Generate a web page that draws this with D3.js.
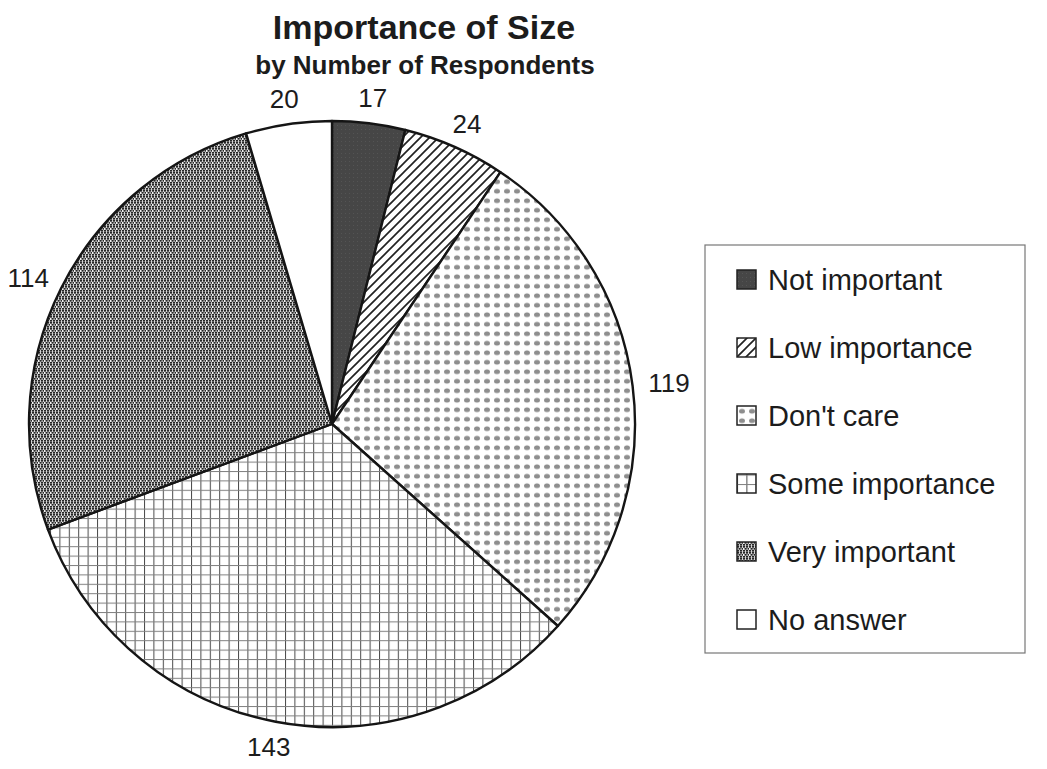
<!DOCTYPE html>
<html>
<head>
<meta charset="utf-8">
<script src="https://cdn.jsdelivr.net/npm/d3@7"></script>
<style>
  body { margin: 0; background: #fff; }
  svg text { font-family: "Liberation Sans", Arial, sans-serif; fill: #1c1c1c; }
</style>
</head>
<body>
<div id="chart"></div>
<script>
const categories = ["Not important", "Low importance", "Don't care", "Some importance", "Very important", "No answer"];
const counts = [17, 24, 119, 143, 114, 20];
const patternIds = ["solidDark", "diag", "dots", "grid", "stipple", "blank"];

const width = 1047, height = 769;
const cx = 332, cy = 424, radius = 303;

const svg = d3.select("#chart").append("svg")
  .attr("width", width)
  .attr("height", height);

const defs = svg.append("defs");

// patterns, roughly like the old excel print fills
defs.append("pattern").attr("id", "solidDark")
  .attr("patternUnits", "userSpaceOnUse").attr("width", 4).attr("height", 4)
  .call(p => {
    p.append("rect").attr("width", 4).attr("height", 4).attr("fill", "#464646");
    p.append("rect").attr("x", 1).attr("y", 1).attr("width", 1).attr("height", 1).attr("fill", "#545454");
  });

defs.append("pattern").attr("id", "diag")
  .attr("patternUnits", "userSpaceOnUse").attr("width", 9).attr("height", 9)
  .call(p => {
    p.append("rect").attr("width", 9).attr("height", 9).attr("fill", "#fff");
    p.append("path").attr("d", "M0,9 L9,0 M-2,2 L2,-2 M7,11 L11,7")
      .attr("stroke", "#222").attr("stroke-width", 1.7);
  });

defs.append("pattern").attr("id", "dots")
  .attr("patternUnits", "userSpaceOnUse").attr("width", 10).attr("height", 9.5)
  .call(p => {
    p.append("rect").attr("width", 10).attr("height", 9.5).attr("fill", "#fff");
    p.append("ellipse").attr("cx", 5).attr("cy", 4.75).attr("rx", 3).attr("ry", 2.4).attr("fill", "#8e8e8e");
  });

defs.append("pattern").attr("id", "grid")
  .attr("patternUnits", "userSpaceOnUse").attr("width", 9.4).attr("height", 9.4)
  .call(p => {
    p.append("rect").attr("width", 9.4).attr("height", 9.4).attr("fill", "#fff");
    p.append("line").attr("x1", 0.5).attr("x2", 0.5).attr("y1", 0).attr("y2", 9.4)
      .attr("stroke", "#4a4a4a").attr("stroke-width", 1);
    p.append("line").attr("x1", 0).attr("x2", 9.4).attr("y1", 0.5).attr("y2", 0.5)
      .attr("stroke", "#808080").attr("stroke-width", 1);
  });

defs.append("pattern").attr("id", "stipple")
  .attr("patternUnits", "userSpaceOnUse").attr("width", 6).attr("height", 6)
  .call(p => {
    p.append("rect").attr("width", 6).attr("height", 6).attr("fill", "#f4f4f4");
    const specks = [[0, 0], [3, 0], [1.5, 2], [4.5, 2], [0, 4], [3, 4]];
    specks.forEach(s => {
      p.append("rect").attr("x", s[0]).attr("y", s[1]).attr("width", 2.2).attr("height", 1.7).attr("fill", "#262626");
    });
  });

defs.append("pattern").attr("id", "blank")
  .attr("patternUnits", "userSpaceOnUse").attr("width", 4).attr("height", 4)
  .append("rect").attr("width", 4).attr("height", 4).attr("fill", "#fff");

const data = categories.map((c, i) => ({ name: c, value: counts[i], pat: patternIds[i] }));

const pie = d3.pie().value(d => d.value).sort(null);
const arcs = pie(data);

const arc = d3.arc().innerRadius(0).outerRadius(radius);

const g = svg.append("g").attr("transform", `translate(${cx},${cy})`);

g.selectAll("path.slice")
  .data(arcs)
  .enter()
  .append("path")
  .attr("class", "slice")
  .attr("d", arc)
  .attr("fill", d => `url(#${d.data.pat})`)
  .attr("stroke", "#151515")
  .attr("stroke-width", 2.4)
  .attr("stroke-linejoin", "round");

// value labels, placed just outside the rim like excel does
const labelR = radius + 16;
const labels = g.selectAll("text.val")
  .data(arcs)
  .enter()
  .append("text")
  .attr("class", "val")
  .style("font-size", "26px")
  .text(d => d.data.value);

labels.each(function(d) {
  const a = (d.startAngle + d.endAngle) / 2;
  const s = Math.sin(a), c = Math.cos(a);
  const px = labelR * s, py = -labelR * c;
  const bb = this.getBBox();
  const w = bb.width, h = 19;
  const left = px - w * (1 - s) / 2;
  const top = py - h * (1 + c) / 2;
  d3.select(this).attr("x", left).attr("y", top + h);
});

// title
svg.append("text")
  .attr("x", 424).attr("y", 39)
  .attr("text-anchor", "middle")
  .style("font-size", "34px").style("font-weight", "bold")
  .text("Importance of Size");

svg.append("text")
  .attr("x", 425).attr("y", 74)
  .attr("text-anchor", "middle")
  .style("font-size", "26px").style("font-weight", "bold")
  .text("by Number of Respondents");

// legend
const legend = svg.append("g").attr("transform", "translate(705,245)");
legend.append("rect")
  .attr("width", 320).attr("height", 408)
  .attr("fill", "#fff")
  .attr("stroke", "#777").attr("stroke-width", 1.2);

const rowY = d3.scalePoint().domain(categories).range([35, 375]);

const items = legend.selectAll("g.item")
  .data(data)
  .enter()
  .append("g")
  .attr("class", "item")
  .attr("transform", d => `translate(32,${rowY(d.name)})`);

items.append("rect")
  .attr("x", 0).attr("y", -10)
  .attr("width", 19).attr("height", 19)
  .attr("fill", d => `url(#${d.pat})`)
  .attr("stroke", "#222").attr("stroke-width", 1.5);

items.append("text")
  .attr("x", 31).attr("y", 10)
  .style("font-size", "29px")
  .text(d => d.name);
</script>
</body>
</html>
